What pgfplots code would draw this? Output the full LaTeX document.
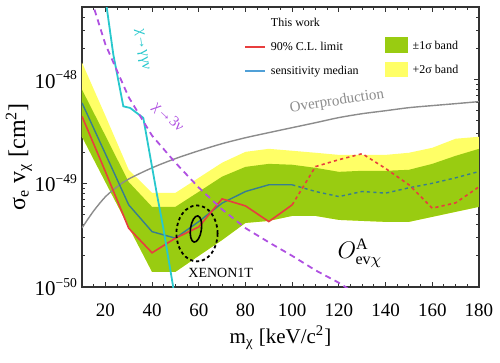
\documentclass[border=0pt]{standalone}
\usepackage{fontspec}
\setmainfont{Liberation Serif}
\usepackage{pgfplots}
\pgfplotsset{compat=1.18}
\definecolor{yband}{RGB}{255,255,102}
\definecolor{gband}{RGB}{153,204,17}
\definecolor{redl}{RGB}{232,62,62}
\definecolor{teall}{RGB}{55,125,145}
\definecolor{legteal}{RGB}{80,160,215}
\definecolor{cyanl}{RGB}{40,200,205}
\definecolor{magl}{RGB}{175,80,225}
\definecolor{grayl}{RGB}{140,140,140}
\newcommand{\ylab}[1]{10\raisebox{0.85ex}{\fontsize{6.8}{7}\selectfont −#1}}
\begin{document}
\begin{tikzpicture}
\begin{axis}[
  scale only axis, width=198.5pt, height=140pt,
  xmin=10, xmax=180, ymode=log, ymin=1e-50, ymax=5e-48,
  xtick={20,40,...,180}, minor xtick={10,15,...,180},
  ytick={1e-50,1e-49,1e-48},
  yticklabels={\ylab{50},\ylab{49},\ylab{48}},
  minor ytick={2e-50,3e-50,4e-50,5e-50,6e-50,7e-50,8e-50,9e-50,2e-49,3e-49,4e-49,5e-49,6e-49,7e-49,8e-49,9e-49,2e-48,3e-48,4e-48},
  /pgf/number format/assume math mode=true,
  xticklabel style={font=\fontsize{9.5}{10}\selectfont},
  yticklabel style={font=\fontsize{10.5}{11}\selectfont},
  xticklabel shift=5pt, yticklabel shift=-1pt,
  major tick length=2.5pt, minor tick length=1.4pt,
  tick style={black!80, line width=0.5pt},
  axis line style={black!80, line width=0.6pt},
  xlabel={m\textsubscript{χ} [keV/c\textsuperscript{2}]},
  ylabel={σ\textsubscript{e} v\textsubscript{χ} [cm\textsuperscript{2}]},
  every axis x label/.style={at={(axis description cs:0.5,-0.182)},anchor=center,font=\fontsize{10.5}{11}\selectfont},
  every axis y label/.style={at={(axis description cs:-0.159,0.465)},anchor=center,rotate=90,font=\fontsize{12}{13}\selectfont},
]
% +2 sigma band (drawn down to -1 sigma, green on top)
\addplot[fill=yband, draw=none] coordinates {
 (10,1.46e-48) (20,4.49e-49) (30,1.35e-49) (40,8.09e-50) (50,8.09e-50) (60,1.13e-49)
 (70,1.58e-49) (80,2.01e-49) (90,2.15e-49) (100,2.06e-49) (110,1.97e-49) (120,1.88e-49)
 (130,1.88e-49) (140,1.88e-49) (150,1.97e-49) (160,2.20e-49) (170,2.69e-49) (180,2.81e-49)
 (180,5.93e-50) (170,5.31e-50) (160,4.75e-50) (150,4.25e-50) (140,4.25e-50) (130,4.34e-50)
 (120,4.44e-50) (110,4.85e-50) (100,4.85e-50) (90,4.34e-50) (80,4.15e-50) (70,2.84e-50)
 (60,2.0e-50) (50,1.40e-50) (40,1.40e-50) (30,3.80e-50) (20,1.03e-49) (10,2.81e-49)} -- cycle;
% +-1 sigma band
\addplot[fill=gband, draw=none] coordinates {
 (10,8.0e-49) (20,2.88e-49) (30,1.03e-49) (40,5.93e-50) (50,5.93e-50) (60,8.28e-50)
 (70,1.16e-49) (80,1.44e-49) (90,1.54e-49) (100,1.51e-49) (110,1.41e-49) (120,1.29e-49)
 (130,1.32e-49) (140,1.32e-49) (150,1.35e-49) (160,1.54e-49) (170,1.84e-49) (180,2.15e-49)
 (180,5.93e-50) (170,5.31e-50) (160,4.75e-50) (150,4.25e-50) (140,4.25e-50) (130,4.34e-50)
 (120,4.44e-50) (110,4.85e-50) (100,4.85e-50) (90,4.34e-50) (80,4.15e-50) (70,2.84e-50)
 (60,2.0e-50) (50,1.40e-50) (40,1.40e-50) (30,3.80e-50) (20,1.03e-49) (10,2.81e-49)} -- cycle;
% overproduction
\addplot[grayl, line width=0.7pt, smooth] coordinates {
 (10,3.72e-50) (15,5.42e-50) (20,7.41e-50) (25,9.25e-50) (30,1.10e-49) (40,1.41e-49)
 (50,1.73e-49) (60,2.06e-49) (70,2.41e-49) (80,2.75e-49) (90,3.08e-49) (100,3.44e-49)
 (110,3.84e-49) (120,4.30e-49) (130,4.69e-49) (140,5.01e-49) (150,5.36e-49) (160,5.61e-49)
 (170,5.86e-49) (180,6.13e-49)};
% sensitivity median
\addplot[teall, line width=0.7pt] coordinates {
 (10,5.96e-49) (20,1.93e-49) (30,6.20e-50) (40,3.42e-50) (50,2.96e-50) (60,4.28e-50)
 (70,6.44e-50) (80,8.34e-50) (90,9.68e-50) (100,9.68e-50)};
\addplot[teall, line width=0.7pt, dash pattern=on 1.6pt off 1.6pt] coordinates {
 (100,9.68e-50) (110,8.34e-50) (120,7.45e-50) (130,8.34e-50) (140,8.04e-50) (150,9.05e-50)
 (160,1.00e-49) (170,1.13e-49) (180,1.30e-49)};
% 90% CL limit
\addplot[redl, line width=0.8pt] coordinates {
 (10,4.42e-49) (20,1.30e-49) (30,3.69e-50) (40,2.14e-50) (50,2.96e-50) (60,3.80e-50)
 (70,7.08e-50) (80,6.06e-50) (90,4.28e-50) (100,6.20e-50)};
\addplot[redl, line width=0.8pt, dash pattern=on 1.6pt off 1.6pt] coordinates {
 (100,6.20e-50) (110,1.45e-49) (120,1.69e-49) (130,1.93e-49) (140,1.39e-49) (150,9.68e-50)
 (160,5.76e-50) (170,6.48e-50) (180,9.25e-50)};
% chi -> gamma gamma nu
\addplot[cyanl, line width=0.9pt] coordinates {
 (20.2,5.93e-48) (20.6,4.93e-48) (23.4,1.75e-48) (27.7,5.52e-49) (30.6,5.33e-49)
 (36.25,4.27e-49) (42.0,8.03e-50) (44.8,3.72e-50) (49.4,9.0e-51)};
% chi -> 3 nu
\addplot[magl, line width=0.9pt, dash pattern=on 3pt off 2.2pt] coordinates {
 (14,5.9e-48) (20,2.19e-48) (30,6.76e-49) (40,2.88e-49) (50,1.58e-49) (60,9.1e-50)
 (70,5.6e-50) (80,3.7e-50) (90,2.7e-50) (100,2.0e-50) (110,1.45e-50) (120,1.1e-50) (125,9.3e-51)};
% XENON1T contours
\draw[black, line width=0.8pt, rotate around={-8:(axis cs:58.8,3.63e-50)}] (axis cs:58.8,3.63e-50) ellipse [x radius=2.75pt, y radius=6.6pt];
\draw[black, line width=0.9pt, dash pattern=on 1.6pt off 1.4pt] (axis cs:59.25,3.29e-50) ellipse [x radius=10.3pt, y radius=14pt];
% annotations
\node[font=\fontsize{7}{8}\selectfont] at (axis cs:69.4,1.38e-50) {XENON1T};
\node[font=\fontsize{12}{13}\selectfont] at (axis cs:129,2.13e-50) {$O^{\mathrm{A}}_{\mathrm{ev}\chi}$};
\node[rotate=9, text=grayl, font=\fontsize{7.5}{8}\selectfont] at (axis cs:119.2,6.12e-49) {Overproduction};
\node[rotate=-82, text=cyanl, font=\fontsize{7.5}{8}\selectfont, inner sep=0pt] at (axis cs:35.6,1.95e-48) {χ→γγν};
\node[rotate=-43, text=magl, font=\fontsize{7.5}{8}\selectfont, inner sep=0pt] at (axis cs:46.8,4.3e-49) {χ→3ν};
% legend
\node[anchor=west, font=\fontsize{6}{7}\selectfont, inner sep=0pt] at (rel axis cs:0.475,0.944) {This work};
\draw[redl, line width=0.7pt] (rel axis cs:0.411,0.858) -- (rel axis cs:0.461,0.858);
\node[anchor=west, font=\fontsize{6}{7}\selectfont, inner sep=0pt] at (rel axis cs:0.475,0.858) {90\% C.L. limit};
\draw[legteal, line width=0.8pt] (rel axis cs:0.411,0.771) -- (rel axis cs:0.461,0.771);
\node[anchor=west, font=\fontsize{6}{7}\selectfont, inner sep=0pt] at (rel axis cs:0.475,0.771) {sensitivity median};
\fill[gband] (rel axis cs:0.763,0.835) rectangle (rel axis cs:0.822,0.894);
\node[anchor=west, font=\fontsize{6}{7}\selectfont, inner sep=0pt] at (rel axis cs:0.832,0.864) {±1σ band};
\fill[yband] (rel axis cs:0.763,0.749) rectangle (rel axis cs:0.822,0.805);
\node[anchor=west, font=\fontsize{6}{7}\selectfont, inner sep=0pt] at (rel axis cs:0.832,0.777) {+2σ band};
\end{axis}
\pgfresetboundingbox
\path (-41pt,-38pt) rectangle (209pt,143.5pt);
\end{tikzpicture}
\end{document}
